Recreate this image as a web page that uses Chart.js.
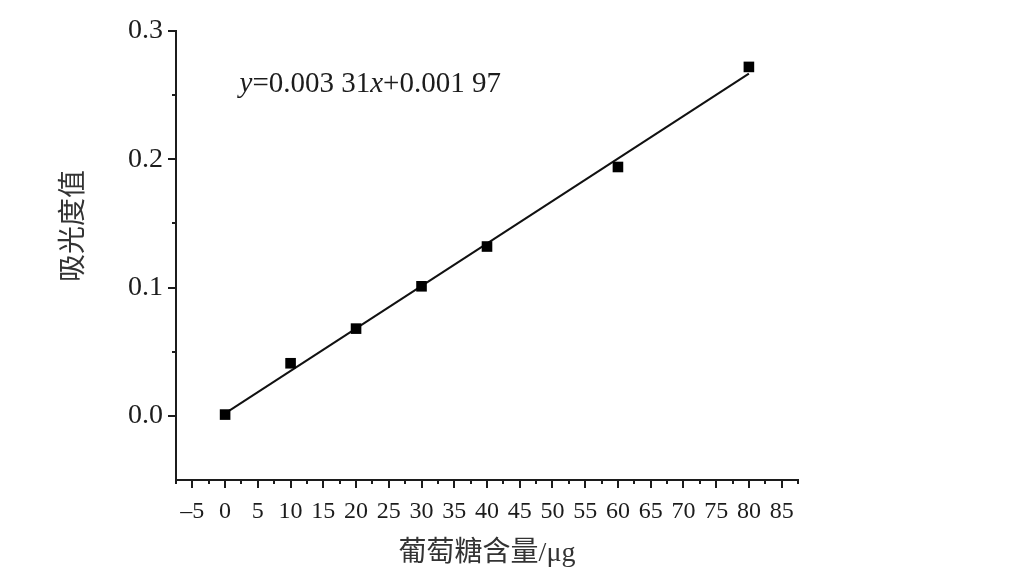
<!DOCTYPE html>
<html>
<head>
<meta charset="utf-8">
<script src="https://cdn.jsdelivr.net/npm/chart.js@4"></script>
<style>
  html, body { margin: 0; background: #fff; }
  #wrap { width: 1032px; height: 585px; }
</style>
</head>
<body>
<div id="wrap"><canvas id="myChart"></canvas></div>
<script>
const glucose = [0, 10, 20, 30, 40, 60, 80];
const absorbance = [0.001, 0.041, 0.068, 0.101, 0.132, 0.194, 0.272];
const fitX = [0, 80];
const fitY = [0.00197, 0.26677];
const xTickLabels = [-5, 0, 5, 10, 15, 20, 25, 30, 35, 40, 45, 50, 55, 60, 65, 70, 75, 80, 85];
const yTickLabels = [0, 0.1, 0.2, 0.3];

const serif = "'Liberation Serif', 'Times New Roman', serif";
const cjk = "'Liberation Serif', 'Noto Sans CJK SC', serif";
const ink = "#1c1c1c";

const isMajor = (list, v) => list.some(t => Math.abs(t - v) < 1e-6);

// minor ticks, y title and the fit equation
const extras = {
  id: "extras",
  afterDraw(chart) {
    const { ctx, scales: { x, y } } = chart;
    ctx.save();
    ctx.strokeStyle = ink;
    ctx.lineWidth = 2;
    x.ticks.forEach(t => {
      if (isMajor(xTickLabels, t.value)) return;
      const px = Math.round(x.getPixelForValue(t.value));
      ctx.beginPath();
      ctx.moveTo(px, x.top);
      ctx.lineTo(px, x.top + 4);
      ctx.stroke();
    });
    y.ticks.forEach(t => {
      if (isMajor(yTickLabels, t.value) || t.value <= y.min + 1e-6) return;
      const py = Math.round(y.getPixelForValue(t.value));
      ctx.beginPath();
      ctx.moveTo(y.right, py);
      ctx.lineTo(y.right - 4, py);
      ctx.stroke();
    });

    // y axis title
    ctx.fillStyle = "#333";
    ctx.font = "28px " + cjk;
    ctx.textAlign = "center";
    ctx.textBaseline = "middle";
    ctx.translate(75, y.getPixelForValue(0.148));
    ctx.rotate(-Math.PI / 2);
    ctx.fillText("吸光度值", 0, 0);
    ctx.restore();

    // equation
    ctx.save();
    ctx.fillStyle = ink;
    ctx.textAlign = "left";
    ctx.textBaseline = "alphabetic";
    let px = x.getPixelForValue(2.2);
    const py = y.getPixelForValue(0.2527);
    const parts = [["y", true], ["=0.003 31", false], ["x", true], ["+0.001 97", false]];
    parts.forEach(([txt, it]) => {
      ctx.font = (it ? "italic " : "") + "29px " + serif;
      ctx.fillText(txt, px, py);
      px += ctx.measureText(txt).width;
    });
    ctx.restore();
  }
};

new Chart(document.getElementById("myChart"), {
  type: "scatter",
  data: {
    datasets: [
      {
        label: "data",
        data: glucose.map((g, i) => ({ x: g, y: absorbance[i] })),
        pointStyle: "rect",
        pointRadius: 7.5,
        backgroundColor: "#000",
        borderColor: "#000",
        borderWidth: 0
      },
      {
        label: "fit",
        data: fitX.map((g, i) => ({ x: g, y: fitY[i] })),
        showLine: true,
        pointRadius: 0,
        borderColor: "#111",
        borderWidth: 2
      }
    ]
  },
  options: {
    responsive: true,
    maintainAspectRatio: false,
    animation: false,
    layout: { padding: { left: 0, top: 31, right: 234, bottom: 0 } },
    plugins: { legend: { display: false }, tooltip: { enabled: false } },
    scales: {
      x: {
        min: -7.5,
        max: 87.5,
        afterFit: s => { s.height = 105; },
        border: { display: true, color: ink, width: 2 },
        grid: {
          drawOnChartArea: false,
          tickLength: 8,
          lineWidth: 2,
          color: c => (c.tick && isMajor(xTickLabels, c.tick.value) ? ink : "rgba(0,0,0,0)")
        },
        ticks: {
          stepSize: 2.5,
          autoSkip: false,
          maxRotation: 0,
          padding: 9,
          color: ink,
          font: { family: serif, size: 24 },
          callback: v => (isMajor(xTickLabels, v) ? String(Math.round(v)).replace("-", "–") : "")
        },
        title: {
          display: true,
          text: "葡萄糖含量/μg",
          color: "#333",
          font: { family: cjk, size: 28 },
          padding: { top: 0, bottom: 15 }
        }
      },
      y: {
        min: -0.05,
        max: 0.3,
        afterFit: s => { s.width = 176; },
        border: { display: true, color: ink, width: 2 },
        grid: {
          drawOnChartArea: false,
          tickLength: 8,
          lineWidth: 2,
          color: c => (c.tick && isMajor(yTickLabels, c.tick.value) ? ink : "rgba(0,0,0,0)")
        },
        ticks: {
          stepSize: 0.05,
          autoSkip: false,
          padding: 5,
          color: ink,
          font: { family: serif, size: 28 },
          callback: v => (isMajor(yTickLabels, v) ? Math.abs(v).toFixed(1) : "")
        }
      }
    }
  },
  plugins: [extras]
});
</script>
</body>
</html>
